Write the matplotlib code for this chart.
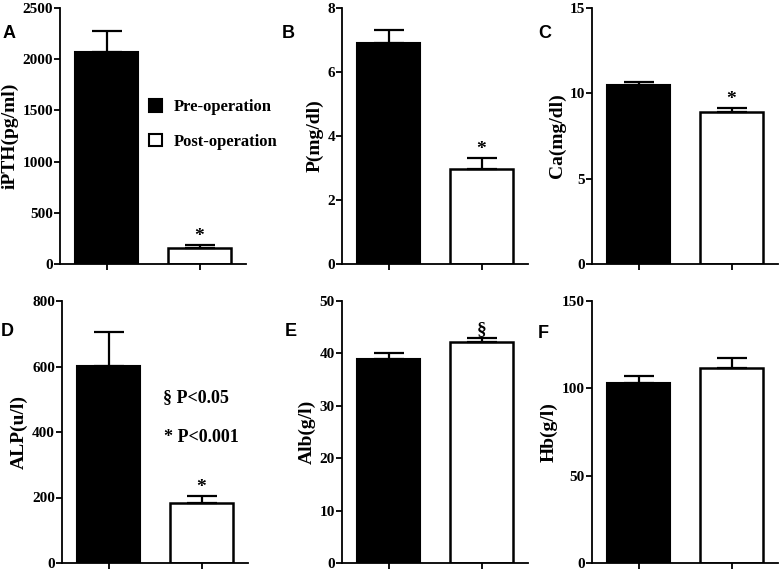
import matplotlib
matplotlib.use("Agg")
import matplotlib.pyplot as plt
from matplotlib.patches import Patch

# data
groups = ["Pre-operation", "Post-operation"]
panel_letters = ["A", "B", "C", "D", "E", "F"]
ylabels = ["iPTH(pg/ml)", "P(mg/dl)", "Ca(mg/dl)", "ALP(u/l)", "Alb(g/l)", "Hb(g/l)"]
pre_means = [2075, 6.9, 10.5, 603, 38.9, 102.8]
pre_errs = [205, 0.42, 0.15, 103, 1.1, 4.0]
post_means = [155, 2.97, 8.9, 183, 42.1, 111.9]
post_errs = [32, 0.35, 0.25, 21, 0.8, 5.3]
ymax = [2500, 8, 15, 800, 50, 150]
ystep = [500, 2, 5, 200, 10, 50]
sig_marks = ["*", "*", "*", "*", "\u00a7", ""]

W, H = 784, 571
serif = "Liberation Serif"
sans = "Liberation Sans"

fig = plt.figure(figsize=(W / 100, H / 100), dpi=100)

# axes boxes in pixels: left, top, bottom
lefts = [60, 342, 592, 62, 342, 592]
tops = [8, 8, 8, 301, 301, 301]
bottoms = [264, 264, 264, 563, 563, 563]
axw = 186
letter_pos = [(3, 33), (282, 33), (538, 33), (1, 331), (285, 331), (538, 333)]

axes = []
for i in range(6):
    ax = fig.add_axes([lefts[i] / W, 1 - bottoms[i] / H, axw / W, (bottoms[i] - tops[i]) / H])
    axes.append(ax)
    b1 = ax.bar(0, pre_means[i], width=0.68, color="black", edgecolor="black", linewidth=1.5, zorder=2)
    b2 = ax.bar(1, post_means[i], width=0.68, color="white", edgecolor="black", linewidth=1.8, zorder=2)
    ax.errorbar(0, pre_means[i], yerr=[[0], [pre_errs[i]]], fmt="none", ecolor="black",
                elinewidth=1.6, capsize=11, capthick=1.6, zorder=3)
    ax.errorbar(1, post_means[i], yerr=[[0], [post_errs[i]]], fmt="none", ecolor="black",
                elinewidth=1.6, capsize=11, capthick=1.6, zorder=3)
    if sig_marks[i]:
        ax.annotate(sig_marks[i], xy=(1, post_means[i] + post_errs[i]), xytext=(0, 0),
                    textcoords="offset points", ha="center", va="bottom",
                    fontsize=14, fontweight="bold", family=serif)
    ax.set_xlim(-0.5, 1.5)
    ax.set_ylim(0, ymax[i])
    ax.set_yticks(range(0, int(ymax[i]) + 1, ystep[i]) if ystep[i] >= 1 else [])
    ax.set_xticks([0, 1])
    ax.set_xticklabels([])
    for s in ["top", "right"]:
        ax.spines[s].set_visible(False)
    for s in ["left", "bottom"]:
        ax.spines[s].set_linewidth(1.3)
    ax.tick_params(axis="both", direction="out", length=4, width=1.3, pad=1)
    for lab in ax.get_yticklabels():
        lab.set_fontfamily(serif)
        lab.set_fontweight("bold")
        lab.set_fontsize(11)
    ax.set_ylabel(ylabels[i], fontsize=14, fontweight="bold", family=serif, labelpad=3)
    lx, ly = letter_pos[i]
    fig.text(lx / W, 1 - ly / H, panel_letters[i], fontsize=13, fontweight="bold",
             family=sans, ha="left", va="center")

handles = [Patch(facecolor="black", edgecolor="black", linewidth=1.5),
           Patch(facecolor="white", edgecolor="black", linewidth=1.5)]
axes[0].legend(handles, groups, loc="upper left", bbox_to_anchor=(0.44, 0.67), frameon=False,
               prop={"family": serif, "weight": "bold", "size": 12},
               handlelength=0.8, handleheight=0.8, handletextpad=0.7, labelspacing=1.1,
               borderaxespad=0)

axes[3].text(0.543, 0.63, "\u00a7 P<0.05", transform=axes[3].transAxes, fontsize=13,
             fontweight="bold", family=serif, va="center", ha="left")
axes[3].text(0.55, 0.48, "* P<0.001", transform=axes[3].transAxes, fontsize=13,
             fontweight="bold", family=serif, va="center", ha="left")

fig.savefig("out.png", dpi=100)
